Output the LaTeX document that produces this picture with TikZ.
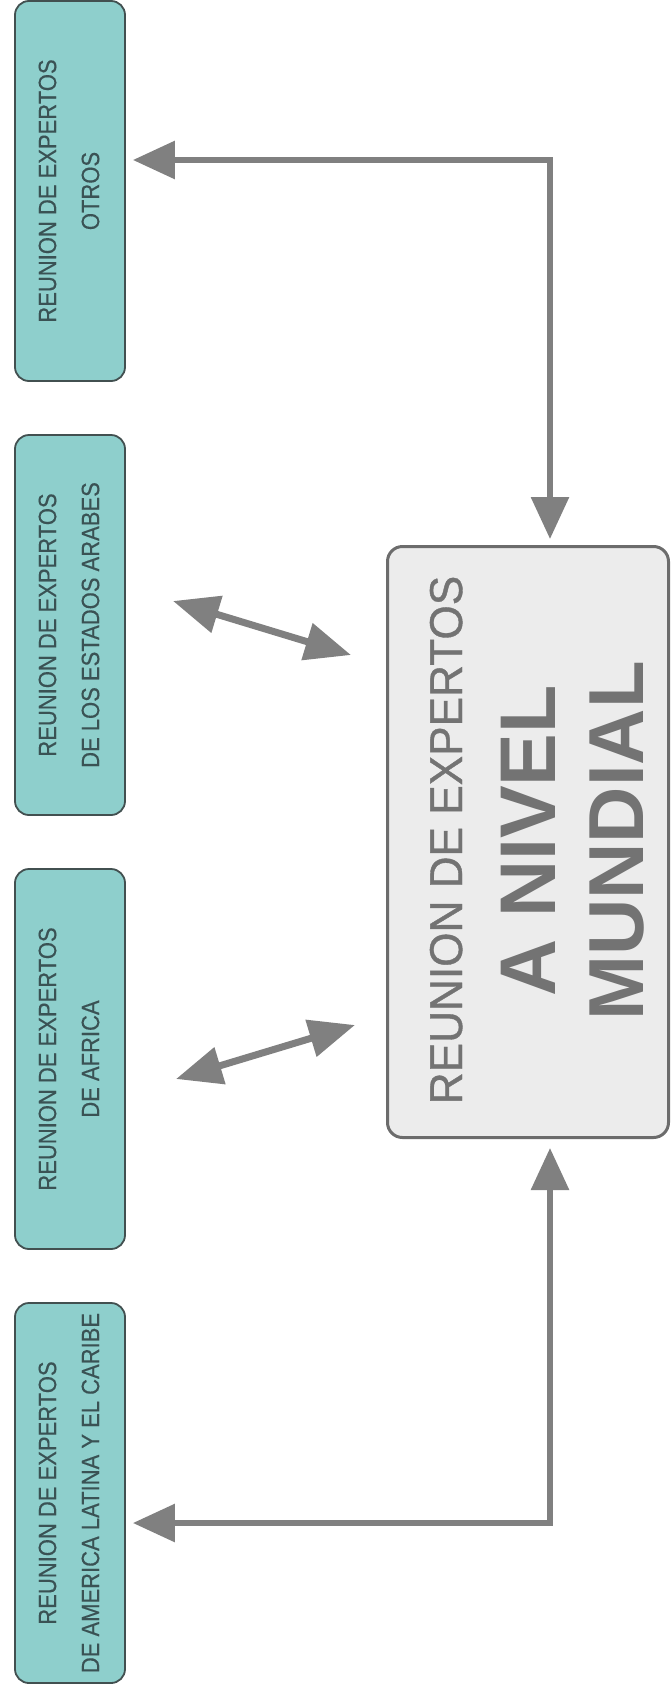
\documentclass[tikz,border=0pt]{standalone}
\usepackage{fontspec}
\setmainfont{Liberation Sans}
\newfontfamily\regfont[FakeStretch=0.88,FakeBold=0.3]{Liberation Sans}
\newfontfamily\headfont[FakeStretch=0.96,FakeBold=0.8]{Liberation Sans}
\usetikzlibrary{arrows.meta}
\definecolor{tealfill}{RGB}{142,207,204}
\definecolor{tealtext}{RGB}{58,82,84}
\definecolor{tealedge}{RGB}{66,80,80}
\definecolor{mainfill}{RGB}{236,236,236}
\definecolor{mainedge}{RGB}{108,108,108}
\definecolor{maintext}{RGB}{115,115,115}
\definecolor{arrowgray}{RGB}{128,128,128}
\begin{document}
\begin{tikzpicture}[x=1pt,y=-1pt,
  regbox/.style={draw=tealedge, line width=1.8pt, fill=tealfill, rounded corners=14pt,
    minimum width=110pt, minimum height=380pt, inner sep=0pt},
  regtext/.style={rotate=90, align=center, text=tealtext, inner sep=0pt,
    font=\regfont\fontsize{25}{43}\selectfont},
  mainbox/.style={draw=mainedge, line width=3pt, fill=mainfill, rounded corners=15pt,
    minimum width=281pt, minimum height=591pt, inner sep=0pt},
  maintxt/.style={rotate=90, anchor=base, text=maintext, inner sep=0pt},
  arr/.style={draw=arrowgray, line width=6pt,
    {Triangle[length=42pt,width=37pt,fill=arrowgray]}-{Triangle[length=42pt,width=37pt,fill=arrowgray]}},
  darr/.style={draw=arrowgray, line width=7pt,
    {Triangle[length=46pt,width=37pt,fill=arrowgray]}-{Triangle[length=46pt,width=37pt,fill=arrowgray]}}
]
\fill[white] (0,0) rectangle (670,1691);

% regional boxes
\node[regbox] (otros)   at (70,191)  {};
\node[regbox] (arabes)  at (70,625)  {};
\node[regbox] (africa)  at (70,1059) {};
\node[regbox] (america) at (70,1493) {};

\node[regtext] (totros)   at (69,191)  {REUNION DE EXPERTOS\\OTROS};
\node[regtext] (tarabes)  at (69,625)  {REUNION DE EXPERTOS\\DE LOS ESTADOS ARABES};
\node[regtext] (tafrica)  at (69,1059) {REUNION DE EXPERTOS\\DE AFRICA};
\node[regtext] (tamerica) at (69,1493) {REUNION DE EXPERTOS\\DE AMERICA LATINA Y EL CARIBE};

% main box
\node[mainbox] (mainb) at (528,842) {};
\node[maintxt, font=\headfont\fontsize{46}{46}\selectfont] (m1) at (462,840) {REUNION DE EXPERTOS};
\node[maintxt, font=\fontsize{79}{79}\selectfont\bfseries] (m2) at (555,841) {A NIVEL};
\node[maintxt, font=\fontsize{78}{78}\selectfont\bfseries] (m3) at (643,841) {MUNDIAL};

% elbow connectors
\coordinate (k1) at (550,160);
\coordinate (k2) at (550,1523);
\draw[arr, shorten <=6pt, shorten >=7pt] (k1 |- mainb.north) -- (k1) -- (k1 -| otros.east);
\draw[arr, shorten <=9pt, shorten >=7pt] (k2 |- mainb.south) -- (k2) -- (k2 -| america.east);

% diagonal connectors
\coordinate (d1) at (173,601);
\coordinate (d2) at (351,655);
\coordinate (d3) at (176,1079);
\coordinate (d4) at (355,1025);
\draw[darr] (d1) -- (d2);
\draw[darr] (d3) -- (d4);
\end{tikzpicture}
\end{document}
